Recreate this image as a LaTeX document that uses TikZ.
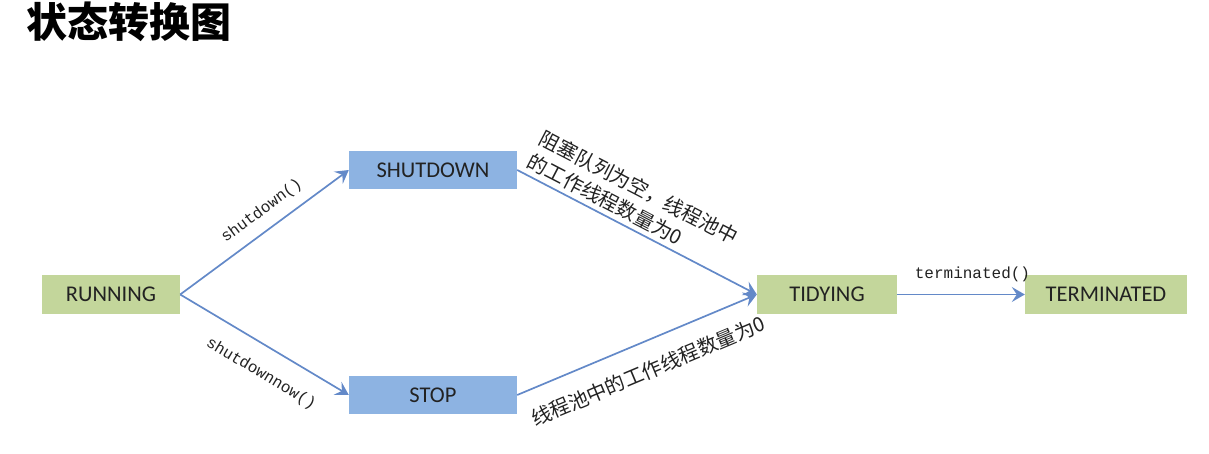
\documentclass[tikz,border=0pt]{standalone}
\usepackage{fontspec}
\setmainfont{Carlito}
\newfontfamily\cjk{Noto Sans CJK SC}
\newfontfamily\codefont{Liberation Mono}
\usepackage{tikz}
\usetikzlibrary{arrows.meta}
\usetikzlibrary{positioning}

\definecolor{stategreen}{HTML}{C3D69B}
\definecolor{stateblue}{HTML}{8DB3E2}
\definecolor{edgeblue}{HTML}{6389C8}
\definecolor{textgray}{HTML}{222222}

\begin{document}
\begin{tikzpicture}[x=1pt,y=1pt,
    greenstate/.style={fill=stategreen,minimum width=140pt,minimum height=39pt,
      font=\fontsize{22.5}{27}\selectfont,text=textgray},
    bluestate/.style={fill=stateblue,minimum width=168pt,minimum height=38pt,
      font=\fontsize{22.5}{27}\selectfont,text=textgray},
    trans/.style={draw=edgeblue,line width=1.7pt,-{Stealth[length=13pt,width=15pt,inset=5pt]}},
    codelabel/.style={font=\codefont\fontsize{16}{19}\selectfont,text=textgray},
    cjklabel/.style={font=\cjk\fontsize{20}{26}\selectfont,text=textgray,align=left}]
      \useasboundingbox (0,0) rectangle (1209,454);
      \node[anchor=west,inner sep=0pt,font=\cjk\bfseries\fontsize{41}{45}\selectfont] (title) at (26,432) {状态转换图};
      \node[greenstate,minimum width=138pt] (running) at (111,159.5) {RUNNING};
      \node[bluestate,on grid,above right=124.5pt and 322pt of running] (shutdown) {SHUTDOWN};
      \node[bluestate,on grid,below right=100.5pt and 322pt of running] (stop) {STOP};
      \node[greenstate,on grid,right=716pt of running] (tidying) {TIDYING};
      \node[greenstate,minimum width=162pt,on grid,right=279pt of tidying] (terminated) {TERMINATED};
      \draw[trans] (running.east) -- node[codelabel,sloped,above=7pt,pos=0.55] {shutdown()} (shutdown.west);
      \draw[trans] (running.east) -- node[codelabel,sloped,below=15pt,pos=0.56] {shutdownnow()} (stop.west);
      \draw[trans] (shutdown.east) -- node[cjklabel,sloped,above=1pt,pos=0.43] {阻塞队列为空，线程池中\\的工作线程数量为0} (tidying.west);
      \draw[trans] (stop.east) -- node[cjklabel,sloped,below=15pt,pos=0.5] {线程池中的工作线程数量为0} (tidying.west);
      \draw[trans] (tidying) -- node[codelabel,above=8pt,pos=0.59] {terminated()} (terminated);
    \end{tikzpicture}
\end{document}
